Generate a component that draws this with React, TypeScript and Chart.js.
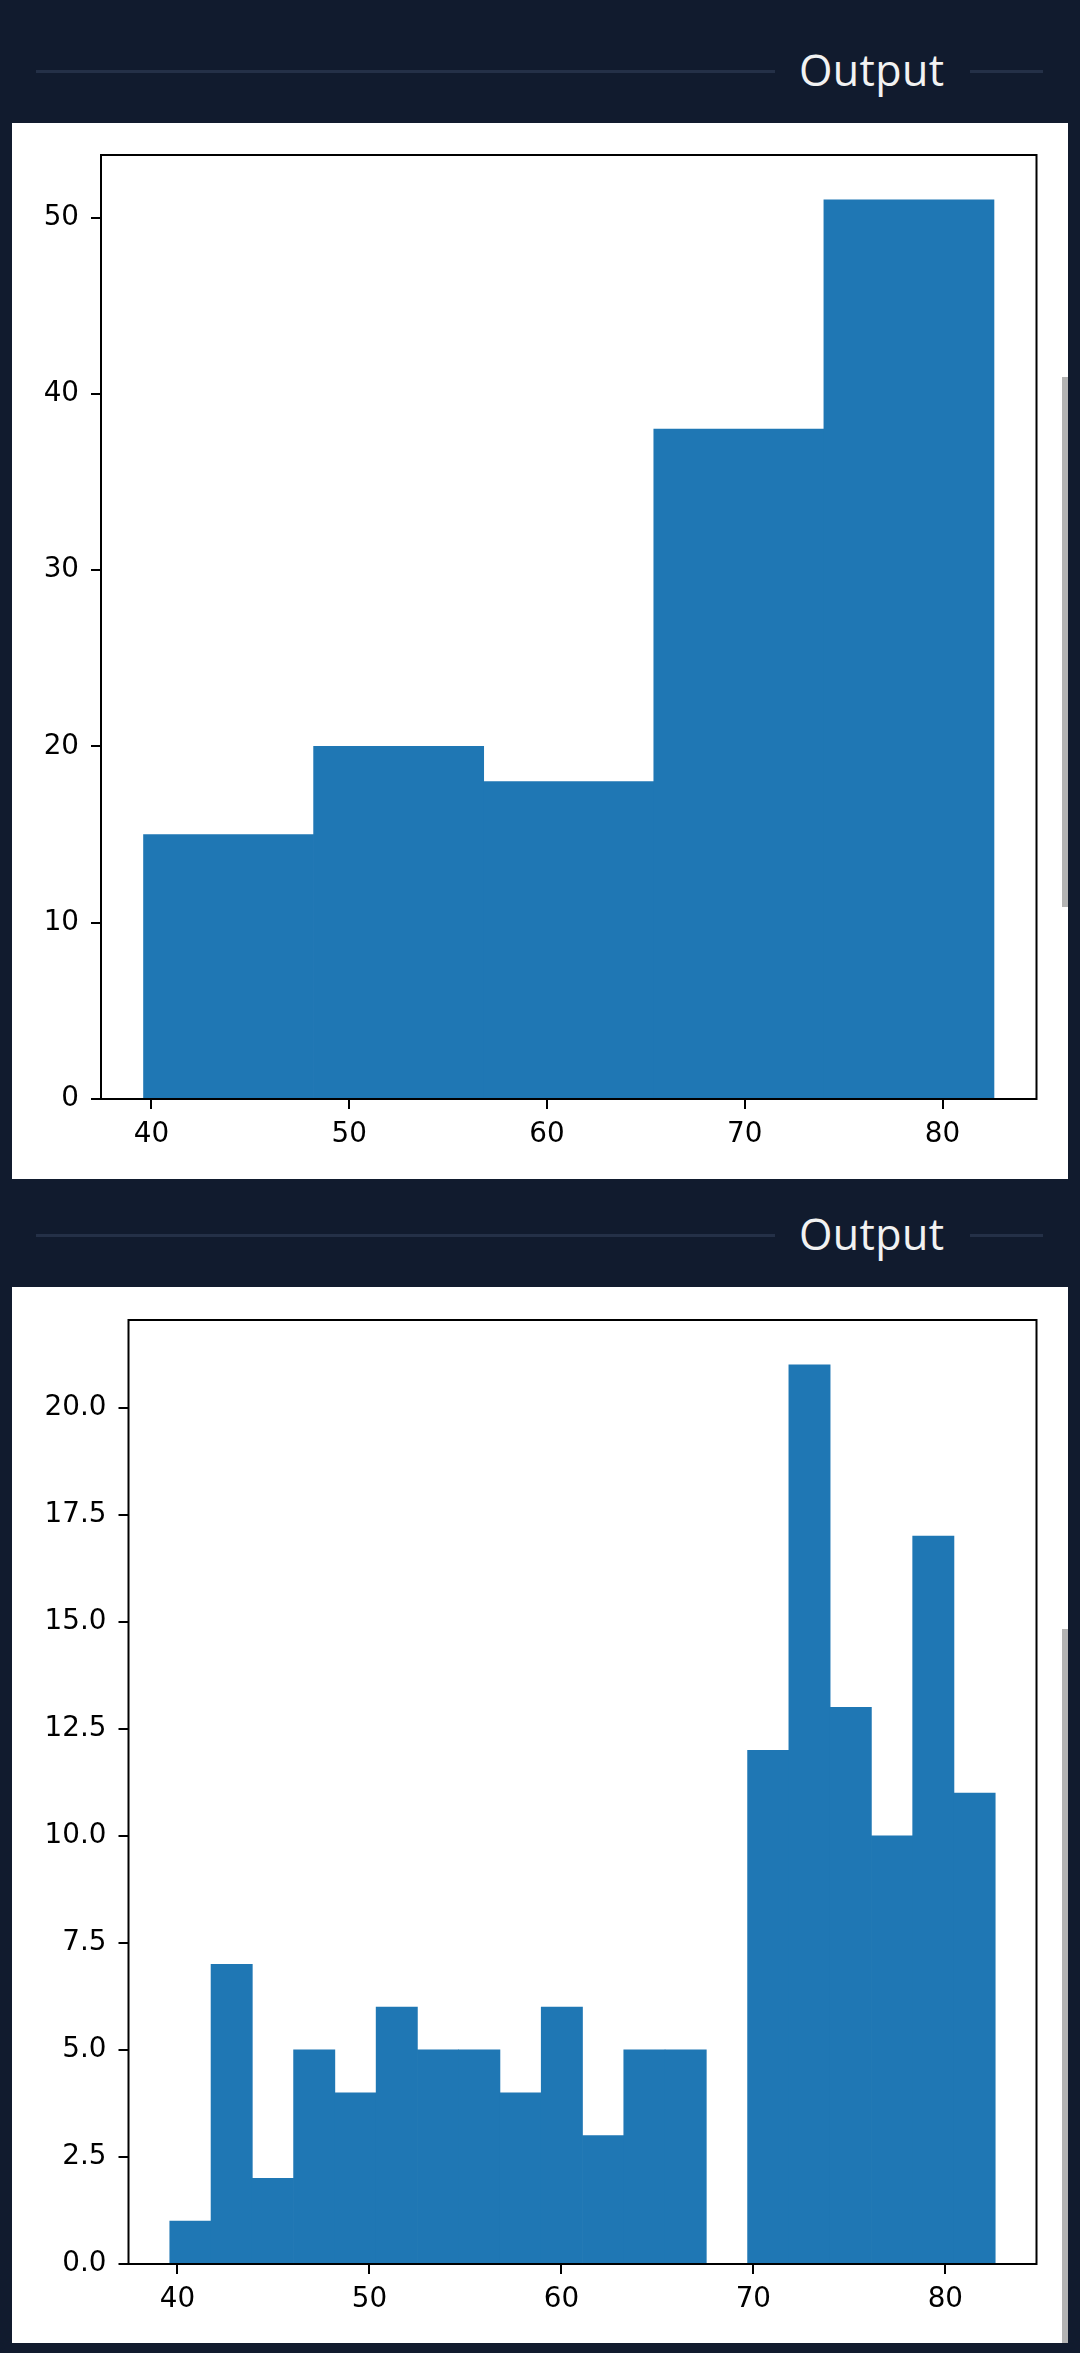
import React, { useEffect, useRef } from "react";
import { Chart, registerables } from "chart.js";

Chart.register(...registerables);

// ---- data ----
const binEdgesA = [39.6, 48.2, 56.8, 65.4, 74.0, 82.6];
const countsA = [15, 20, 18, 38, 51];

const binEdgesB = [
  39.6, 41.75, 43.9, 46.05, 48.2, 50.35, 52.5, 54.65, 56.8, 58.95, 61.1,
  63.25, 65.4, 67.55, 69.7, 71.85, 74.0, 76.15, 78.3, 80.45, 82.6,
];
const countsB = [1, 7, 2, 5, 4, 6, 5, 5, 4, 6, 3, 5, 5, 0, 12, 21, 13, 10, 17, 11];

const xTickValues = [40, 50, 60, 70, 80];
const yTickValuesA = [0, 10, 20, 30, 40, 50];
const yTickValuesB = [0, 2.5, 5, 7.5, 10, 12.5, 15, 17.5, 20];

const xMin = 37.45;
const xMax = 84.75;
const yMaxA = 53.55;
const yMaxB = 22.05;

const BAR_COLOR = "#1f77b4";
const BG = "#111b2e";
const LINE = "#243047";

const framePlugin = {
  id: "frame",
  afterDatasetsDraw(chart: any) {
    const { ctx, chartArea } = chart;
    ctx.save();
    ctx.strokeStyle = "#000";
    ctx.lineWidth = 2;
    ctx.strokeRect(
      chartArea.left,
      chartArea.top,
      chartArea.right - chartArea.left,
      chartArea.bottom - chartArea.top
    );
    ctx.restore();
  },
};

type HistProps = {
  edges: number[];
  counts: number[];
  yTicks: number[];
  yMax: number;
  yDecimals: number;
  yAxisWidth: number;
  xAxisHeight: number;
  padTop: number;
  padRight: number;
};

function Histogram(p: HistProps) {
  const ref = useRef<HTMLCanvasElement>(null);
  useEffect(() => {
    if (!ref.current) return;
    const data = p.counts.map((c, i) => ({
      x: (p.edges[i] + p.edges[i + 1]) / 2,
      y: c,
    }));
    const tickFont = { family: "'DejaVu Sans'", size: 27.8 };
    const chart = new Chart(ref.current, {
      type: "bar",
      data: {
        datasets: [
          {
            data: data as any,
            backgroundColor: BAR_COLOR,
            borderWidth: 0,
            barPercentage: 1,
            categoryPercentage: 1,
          },
        ],
      },
      options: {
        animation: false,
        responsive: false,
        devicePixelRatio: 1,
        layout: {
          padding: { top: p.padTop, right: p.padRight, left: 0, bottom: 0 },
        },
        plugins: {
          legend: { display: false },
          tooltip: { enabled: false },
        },
        scales: {
          x: {
            type: "linear",
            min: xMin,
            max: xMax,
            offset: false,
            border: { display: false },
            grid: {
              offset: false,
              display: true,
              drawOnChartArea: false,
              drawTicks: true,
              tickLength: 10,
              tickColor: "#000",
              lineWidth: 2,
            },
            ticks: {
              includeBounds: false,
              color: "#000",
              font: tickFont,
              padding: 9,
              maxRotation: 0,
              autoSkip: false,
            },
            afterBuildTicks: (s: any) => {
              s.ticks = xTickValues.map((v) => ({ value: v }));
            },
            afterFit: (s: any) => {
              s.height = p.xAxisHeight;
            },
          },
          y: {
            type: "linear",
            min: 0,
            max: p.yMax,
            border: { display: false },
            grid: {
              display: true,
              drawOnChartArea: false,
              drawTicks: true,
              tickLength: 10,
              tickColor: "#000",
              lineWidth: 2,
            },
            ticks: {
              includeBounds: false,
              color: "#000",
              font: tickFont,
              padding: 12,
              autoSkip: false,
              callback: (v: any) => Number(v).toFixed(p.yDecimals),
            },
            afterBuildTicks: (s: any) => {
              s.ticks = p.yTicks.map((v) => ({ value: v }));
            },
            afterFit: (s: any) => {
              s.width = p.yAxisWidth;
            },
          },
        },
      },
      plugins: [framePlugin],
    });
    return () => chart.destroy();
  }, []);
  return (
    <canvas
      ref={ref}
      width={1056}
      height={1056}
      style={{ display: "block", width: 1056, height: 1056 }}
    />
  );
}

function Header({ lineY }: { lineY: number }) {
  return (
    <>
      <div
        style={{
          position: "absolute",
          left: 36,
          top: lineY - 1.5,
          width: 739,
          height: 3,
          background: LINE,
        }}
      />
      <div
        style={{
          position: "absolute",
          left: 970,
          top: lineY - 1.5,
          width: 73,
          height: 3,
          background: LINE,
        }}
      />
      <div
        style={{
          position: "absolute",
          left: 799,
          top: lineY - 23,
          fontFamily: "'Open Sans', 'Noto Sans', sans-serif",
          fontSize: 43,
          lineHeight: "43px",
          letterSpacing: 0.4,
          color: "#f2f2f2",
          whiteSpace: "nowrap",
        }}
      >
        Output
      </div>
    </>
  );
}

export default function App() {
  return (
    <div
      style={{
        position: "absolute",
        left: 0,
        top: 0,
        width: 1080,
        height: 2353,
        background: BG,
        overflow: "hidden",
      }}
    >
      <Header lineY={71} />
      <div
        style={{
          position: "absolute",
          left: 12,
          top: 123,
          width: 1056,
          height: 1056,
          background: "#fff",
        }}
      >
        <Histogram
          edges={binEdgesA}
          counts={countsA}
          yTicks={yTickValuesA}
          yMax={yMaxA}
          yDecimals={0}
          yAxisWidth={89}
          xAxisHeight={80}
          padTop={32}
          padRight={31.5}
        />
      </div>
      <div
        style={{
          position: "absolute",
          left: 1062,
          top: 377,
          width: 6,
          height: 530,
          background: "#b3b3b3",
        }}
      />
      <Header lineY={1235} />
      <div
        style={{
          position: "absolute",
          left: 12,
          top: 1287,
          width: 1056,
          height: 1056,
          background: "#fff",
        }}
      >
        <Histogram
          edges={binEdgesB}
          counts={countsB}
          yTicks={yTickValuesB}
          yMax={yMaxB}
          yDecimals={1}
          yAxisWidth={116.5}
          xAxisHeight={79}
          padTop={33}
          padRight={31.5}
        />
      </div>
      <div
        style={{
          position: "absolute",
          left: 1062,
          top: 1629,
          width: 6,
          height: 714,
          background: "#b3b3b3",
        }}
      />
    </div>
  );
}
